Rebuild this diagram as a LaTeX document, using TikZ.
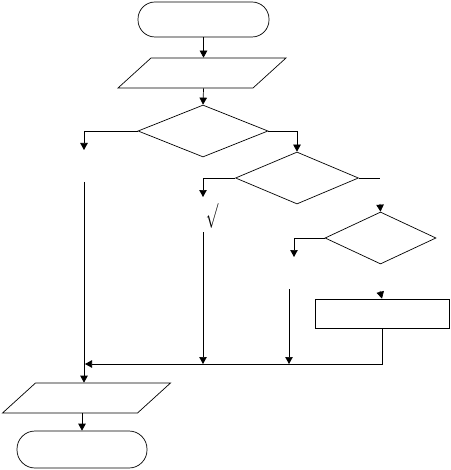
\documentclass[tikz,border=0pt]{standalone}
\usepackage{tikz}
\usetikzlibrary{arrows.meta,shapes.geometric}

\begin{document}
\begin{tikzpicture}[
      x=1pt,y=-1pt,
      term/.style={rectangle,rounded corners=17pt,draw,minimum width=131pt,minimum height=35pt,inner sep=0pt},
      io/.style={rectangle,xslant=1.1,draw,minimum width=135pt,minimum height=30pt,inner sep=0pt},
      decision/.style={diamond,draw,inner sep=0pt,minimum height=52pt},
      proc/.style={rectangle,draw,minimum width=134pt,minimum height=29pt,inner sep=0pt},
      >={Triangle[length=7pt,width=7.5pt]},line width=0.7pt
    ]
    \useasboundingbox (0,0) rectangle (450,470);

    \node[term] (start) at (203.5,19.5) {};
    \node[io] (in1) at (202,73) {};
    \node[decision,minimum width=130pt] (d1) at (203,131) {};
    \node[decision,minimum width=123pt] (d2) at (297,178) {};
    \node[decision,minimum width=111pt] (d3) at (380.5,238) {};
    \node[proc] (work) at (382,313.5) {};
    \node[io] (in2) at (86.5,398) {};
    \node[term,minimum width=130pt,minimum height=37pt,rounded corners=18pt] (stop) at (82,449.5) {};
    \node[inner sep=0pt,font=\fontsize{26}{26}\selectfont,xscale=0.6] (tick) at (212,216) {$\surd$};

    % loose ends of the branches
    \coordinate (aL) at (84,150);
    \coordinate (aL2) at (84,182);
    \coordinate (bL) at (203,197);
    \coordinate (bL2) at (203,232);
    \coordinate (cR) at (380,178);
    \coordinate (cR2) at (380,204);
    \coordinate (eL) at (294,257);
    \coordinate (eL2) at (289,289);
    \coordinate (fD) at (380,291);
    \coordinate (join) at (85,364);

    \draw[->] (start.south) -- (start.south |- in1.north);
    \draw[->] (start.south |- in1.south) -- (d1.north);
    \draw[->] (d1.west) -| (aL);
    \draw[->] (d1.east) -| (d2.north);
    \draw[->] (d2.west) -| (bL);
    \draw (d2.east) -- (cR);
    \draw[->] (cR2) -- (d3.north);
    \draw[->] (d3.west) -| (eL);
    \draw[->] (fD) -- (work.north);
    \draw[->] (work.south) |- (join);
    \draw[->] (bL2) -- (bL2 |- join);
    \draw[->] (eL2) -- (eL2 |- join);
    \draw[->] (aL2) -- (aL2 |- in2.north);
    \draw[->] (stop.north |- in2.south) -- (stop.north);
  \end{tikzpicture}
\end{document}
